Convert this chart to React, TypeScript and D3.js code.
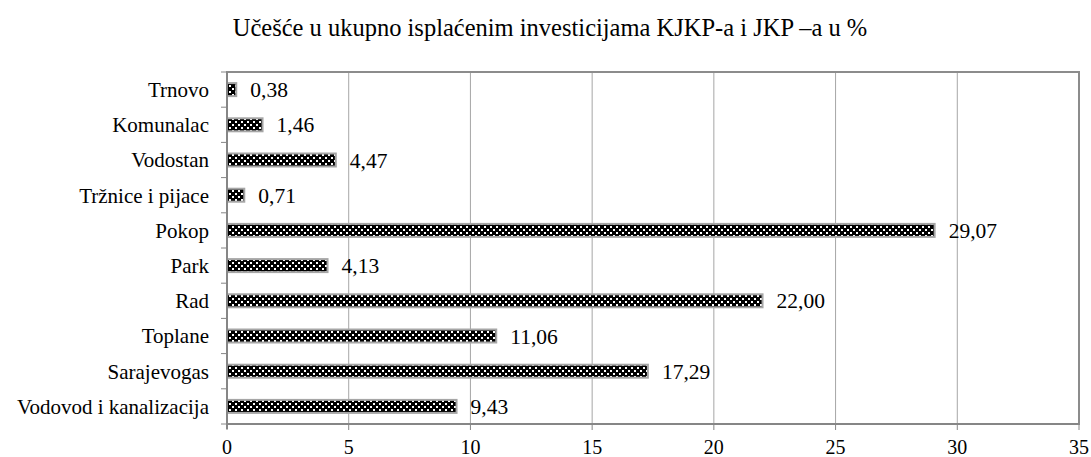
import { useEffect, useRef } from 'react';
import * as d3 from 'd3';

const TITLE = 'Učešće u ukupno isplaćenim investicijama KJKP-a i JKP –a u %';

const CATEGORIES = [
  'Trnovo',
  'Komunalac',
  'Vodostan',
  'Tržnice i pijace',
  'Pokop',
  'Park',
  'Rad',
  'Toplane',
  'Sarajevogas',
  'Vodovod i kanalizacija',
];

const VALUES = [0.38, 1.46, 4.47, 0.71, 29.07, 4.13, 22.0, 11.06, 17.29, 9.43];

const X_TICKS = [0, 5, 10, 15, 20, 25, 30, 35];

export default function App() {
  const svgRef = useRef<SVGSVGElement>(null);

  useEffect(() => {
    if (!svgRef.current) return;

    const width = 1091;
    const height = 457;
    const left = 227;
    const right = 1079;
    const top = 72;
    const bottom = 424;
    const font = '"Liberation Serif", "Times New Roman", serif';

    const svg = d3.select(svgRef.current);
    svg.selectAll('*').remove();
    svg.attr('width', width).attr('height', height);

    // pattern fill for the bars
    const defs = svg.append('defs');
    const pat = defs.append('pattern')
      .attr('id', 'checker')
      .attr('patternUnits', 'userSpaceOnUse')
      .attr('width', 6)
      .attr('height', 6);
    pat.append('rect').attr('width', 6).attr('height', 6).attr('fill', '#000');
    pat.append('rect').attr('x', 1).attr('y', 1).attr('width', 2).attr('height', 2).attr('fill', '#fff');
    pat.append('rect').attr('x', 4).attr('y', 4).attr('width', 2).attr('height', 2).attr('fill', '#fff');

    const x = d3.scaleLinear().domain([0, 35]).range([left, right]);
    const y = d3.scaleBand().domain(CATEGORIES).range([top, bottom]);

    // title
    svg.append('text')
      .attr('x', 550)
      .attr('y', 36)
      .attr('text-anchor', 'middle')
      .attr('font-family', font)
      .attr('font-size', '24.5px')
      .attr('fill', '#000')
      .text(TITLE);

    // grid lines
    X_TICKS.slice(1, -1).forEach((t) => {
      svg.append('line')
        .attr('x1', x(t)).attr('x2', x(t))
        .attr('y1', top).attr('y2', bottom)
        .attr('stroke', '#a6a6a6')
        .attr('stroke-width', 1);
    });

    // plot frame
    svg.append('rect')
      .attr('x', left)
      .attr('y', top)
      .attr('width', right - left)
      .attr('height', bottom - top)
      .attr('fill', 'none')
      .attr('stroke', '#8c8c8c')
      .attr('stroke-width', 2);

    // bars
    CATEGORIES.forEach((c, i) => {
      const bh = 13;
      const cy = (y(c) as number) + y.bandwidth() / 2;
      svg.append('rect')
        .attr('x', x(0))
        .attr('y', cy - bh / 2)
        .attr('width', x(VALUES[i]) - x(0))
        .attr('height', bh)
        .attr('fill', 'url(#checker)')
        .attr('stroke', '#a6a6a6')
        .attr('stroke-width', 2);

      svg.append('text')
        .attr('x', x(VALUES[i]) + 14)
        .attr('y', cy)
        .attr('dy', '0.35em')
        .attr('font-family', font)
        .attr('font-size', '21.5px')
        .attr('fill', '#000')
        .text(d3.format('.2f')(VALUES[i]).replace('.', ','));

      svg.append('text')
        .attr('x', left - 18)
        .attr('y', cy)
        .attr('dy', '0.35em')
        .attr('text-anchor', 'end')
        .attr('font-family', font)
        .attr('font-size', '21px')
        .attr('fill', '#000')
        .text(c);
    });

    // y axis line and ticks
    svg.append('line')
      .attr('x1', left).attr('x2', left)
      .attr('y1', top).attr('y2', bottom + 5)
      .attr('stroke', '#868686')
      .attr('stroke-width', 2);
    d3.range(CATEGORIES.length + 1).forEach((i) => {
      const ty = top + i * y.step();
      svg.append('line')
        .attr('x1', left - 6).attr('x2', left)
        .attr('y1', ty).attr('y2', ty)
        .attr('stroke', '#868686')
        .attr('stroke-width', 1);
    });

    // x axis ticks and labels
    svg.append('line')
      .attr('x1', left).attr('x2', right)
      .attr('y1', bottom).attr('y2', bottom)
      .attr('stroke', '#868686')
      .attr('stroke-width', 2);
    X_TICKS.forEach((t) => {
      svg.append('line')
        .attr('x1', x(t)).attr('x2', x(t))
        .attr('y1', bottom).attr('y2', bottom + 6)
        .attr('stroke', '#868686')
        .attr('stroke-width', 1);
      svg.append('text')
        .attr('x', x(t))
        .attr('y', bottom + 30)
        .attr('text-anchor', 'middle')
        .attr('font-family', font)
        .attr('font-size', '20px')
        .attr('fill', '#000')
        .text(t);
    });
  }, []);

  return <svg ref={svgRef} style={{ position: 'absolute', left: 0, top: 0 }} />;
}
